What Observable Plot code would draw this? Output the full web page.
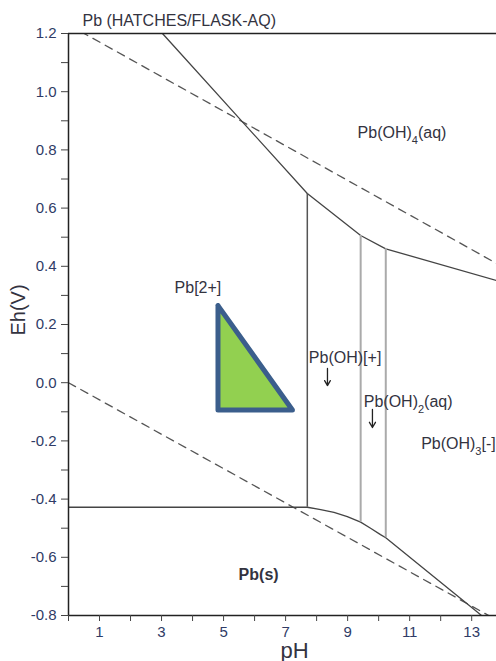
<!DOCTYPE html>
<html><head><meta charset="utf-8">
<script src="https://cdn.jsdelivr.net/npm/d3@7"></script>
<script src="https://cdn.jsdelivr.net/npm/@observablehq/plot@0.6"></script>
<style>body{margin:0;background:#fff;} svg{display:block;}</style>
</head><body><div id="chart"></div>
<script>
// ---- text ----
const title = "Pb (HATCHES/FLASK-AQ)";
const xLabel = "pH";
const yLabel = "Eh(V)";

// ---- ticks ----
const xTicks = [0,1,2,3,4,5,6,7,8,9,10,11,12,13];
const xTickLabels = [1,3,5,7,9,11,13];
const yTicks = [-0.8,-0.7,-0.6,-0.5,-0.4,-0.3,-0.2,-0.1,0,0.1,0.2,0.3,0.4,0.5,0.6,0.7,0.8,0.9,1.0,1.1,1.2];
const yTickLabels = [-0.8,-0.6,-0.4,-0.2,0,0.2,0.4,0.6,0.8,1.0,1.2];

// ---- water stability lines (dashed) ----
const waterUpperPH = [0, 13.8];
const waterUpperEh = [1.23, 0.41];
const waterLowerPH = [0, 13.8];
const waterLowerEh = [0.0, -0.815];

// ---- Pb(s) upper boundary ----
const lowerPH = [0, 7.70, 8.13, 8.56, 8.99, 9.42, 9.74, 10.06, 10.23, 13.19, 13.8];
const lowerEh = [-0.428, -0.428, -0.436, -0.446, -0.460, -0.479, -0.500, -0.522, -0.533, -0.789, -0.842];

// ---- Pb(OH)4(aq) lower boundary ----
const upperPH = [3.03, 7.70, 9.42, 10.23, 13.8];
const upperEh = [1.2, 0.65, 0.506, 0.460, 0.351];

// ---- vertical boundaries ----
const vertPH  = [7.70, 9.42, 10.23];
const vertLo  = [-0.428, -0.479, -0.533];
const vertHi  = [0.65, 0.506, 0.460];
const vertTone = ["dark", "light", "light"];

// ---- species labels ----
const labelText = ["Pb(OH)_4(aq)", "Pb[2+]", "Pb(OH)[+]", "Pb(OH)_2(aq)", "Pb(OH)_3[-]"];
const labelPH   = [9.32, 3.42, 7.75, 9.52, 11.37];
const labelEh   = [0.858, 0.326, 0.084, -0.066, -0.210];
const solidLabel = "Pb(s)";
const solidPH = 6.13, solidEh = -0.660;

// ---- arrows ----
const arrowPH  = [8.35, 9.80];
const arrowEh1 = [0.049, -0.092];
const arrowEh2 = [-0.010, -0.154];

// ---- triangle ----
const triPH = [4.82, 4.82, 7.22, 4.82];
const triEh = [0.265, -0.094, -0.094, 0.265];

const zip = (xs, ys) => xs.map((x, i) => ({x, y: ys[i]}));
const fmtY = d => (d < -1e-9 ? "-" : "") + Math.abs(d).toFixed(1);
const isLabeledY = d => yTickLabels.some(v => Math.abs(v - d) < 1e-9);

const tickFill = "#2f3b66";
const textFill = "#33333f";

const verts = vertPH.map((x, i) => ({x, y1: vertLo[i], y2: vertHi[i], tone: vertTone[i]}));
const labels = labelText.map((t, i) => ({t, x: labelPH[i], y: labelEh[i]}));
const arrows = arrowPH.map((x, i) => ({x, y1: arrowEh1[i], y2: arrowEh2[i]}));

const plot = Plot.plot({
  width: 496,
  height: 661,
  marginLeft: 68,
  marginRight: 0,
  marginTop: 33,
  marginBottom: 46,
  style: {fontFamily: "Arial, 'Liberation Sans', sans-serif", background: "white"},
  x: {domain: [0, 13.8]},
  y: {domain: [-0.8, 1.2]},
  marks: [
    Plot.line(zip(waterUpperPH, waterUpperEh), {x: "x", y: "y", stroke: "#555", strokeWidth: 1.3, strokeDasharray: "8,6", clip: true}),
    Plot.line(zip(waterLowerPH, waterLowerEh), {x: "x", y: "y", stroke: "#555", strokeWidth: 1.3, strokeDasharray: "8,6", clip: true}),
    Plot.line(zip(lowerPH, lowerEh), {x: "x", y: "y", stroke: "#444", strokeWidth: 1.3, clip: true}),
    Plot.line(zip(upperPH, upperEh), {x: "x", y: "y", stroke: "#444", strokeWidth: 1.3, clip: true}),
    Plot.ruleX(verts.filter(d => d.tone === "dark"), {x: "x", y1: "y1", y2: "y2", stroke: "#555", strokeWidth: 1.5}),
    Plot.ruleX(verts.filter(d => d.tone === "light"), {x: "x", y1: "y1", y2: "y2", stroke: "#aaa", strokeWidth: 2}),
    Plot.line(zip(triPH, triEh), {x: "x", y: "y", fill: "#92d050", stroke: "#3b5e8c", strokeWidth: 5, strokeLinejoin: "round"}),
    Plot.text(labels, {x: "x", y: "y", text: "t", textAnchor: "start", lineAnchor: "middle", fontSize: 16, fill: textFill}),
    Plot.text([solidLabel], {x: solidPH, y: solidEh, text: d => d, textAnchor: "middle", lineAnchor: "middle", fontSize: 16, fontWeight: "bold", fill: textFill}),
    Plot.arrow(arrows, {x: "x", y1: "y1", y2: "y2", stroke: "#222", strokeWidth: 1.3, headLength: 7}),
    // frame
    Plot.ruleX([0], {stroke: "#222", strokeWidth: 1.5}),
    Plot.ruleY([-0.8], {stroke: "#222", strokeWidth: 1.5}),
    Plot.ruleY([1.2], {stroke: "#222", strokeWidth: 1.5}),
    // axes
    Plot.axisY({ticks: yTicks, tickSize: 7, tickPadding: 5, tickFormat: d => isLabeledY(d) ? fmtY(d) : "", fontSize: 15, fill: tickFill, stroke: "#444", label: null}),
    Plot.axisX({ticks: xTicks, tickSize: 6, tickPadding: 5, tickFormat: d => xTickLabels.includes(d) ? String(d) : "", fontSize: 15, fill: tickFill, stroke: "#444", label: null}),
    // titles
    Plot.text([title], {x: 0.45, frameAnchor: "top", dy: -13, text: d => d, textAnchor: "start", lineAnchor: "middle", fontSize: 16, fill: textFill}),
    Plot.text([xLabel], {x: 7.29, frameAnchor: "bottom", dy: 42, text: d => d, textAnchor: "middle", lineAnchor: "bottom", fontSize: 22, fill: textFill}),
    Plot.text([yLabel], {y: 0.25, frameAnchor: "left", dx: -50, rotate: -90, text: d => d, textAnchor: "middle", lineAnchor: "middle", fontSize: 20, fill: textFill})
  ]
});

// subscripts: "_n" marks a subscript digit
d3.select(plot).selectAll("text").each(function() {
  const s = this.textContent;
  const m = s.match(/^(.*)_(\d)(.*)$/);
  if (!m) return;
  const el = d3.select(this);
  el.text(null);
  el.append("tspan").text(m[1]);
  el.append("tspan").attr("font-size", "11px").attr("dy", "6").text(m[2]);
  el.append("tspan").attr("dy", "-6").text(m[3]);
});

document.getElementById("chart").append(plot);
</script>
</body></html>
